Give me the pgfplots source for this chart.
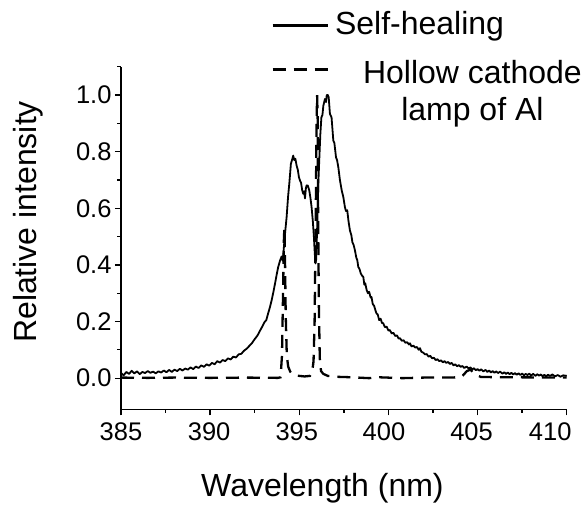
\documentclass[border=0pt]{standalone}
\usepackage{fontspec}
\setmainfont{Liberation Sans}
\usepackage{pgfplots}
\pgfplotsset{compat=1.18}
\begin{document}
\begin{tikzpicture}
\begin{axis}[
  scale only axis, width=445.7pt, height=342.6pt,
  xmin=385, xmax=410, ymin=-0.11, ymax=1.1,
  axis x line*=bottom, axis y line*=left,
  axis line style={line width=1.4pt, -},
  xtick={385,390,395,400,405,410},
  xticklabels={385,\raisebox{-5pt}{390}\hspace*{2pt},395\hspace*{5pt},400\hspace*{9pt},\raisebox{-2pt}{405}\hspace*{12pt},410\hspace*{33pt}},
  minor xtick={387.5,392.5,397.5,402.5,407.5},
  ytick={0,0.2,0.4,0.6,0.8,1},
  yticklabels={0.0,0.2,0.4,0.6,0.8,1.0},
  minor ytick={0.1,0.3,0.5,0.7,0.9,1.1},
  tick align=outside,
  major tick length=6pt, minor tick length=3.5pt,
  every tick/.style={line width=1.3pt, black},
  ticklabel style={font=\fontsize{25.5}{30}\selectfont},
  xticklabel style={yshift=-4pt},
  xlabel={Wavelength (nm)},
  ylabel={Relative intensity},
  xlabel style={font=\fontsize{32}{38}\selectfont, at={(axis description cs:0.452,0)}, anchor=base, yshift=-87.4pt},
  ylabel style={font=\fontsize{32}{38}\selectfont, at={(axis description cs:-0.1885,0.547)}, anchor=base},
  legend style={at={(axis description cs:0.3366,1.169)}, anchor=north west, draw=none, fill=none, inner sep=0pt,
    font=\fontsize{32}{37}\selectfont, row sep=18pt, column sep=4pt},
  legend cell align=left,
  legend image code/.code={\draw[#1] (0pt,0pt) -- (55pt,0pt);},
  clip=false,
]
\coordinate (SW) at (rel axis cs:0,0);
\coordinate (NE) at (rel axis cs:1,1);
\addplot[black, line width=1.8pt, line join=round, legend image post style={line width=2.8pt, yshift=-2pt}] table {
385.00 0.018
385.15 0.010
385.30 0.022
385.45 0.015
385.60 0.026
385.75 0.017
385.90 0.024
386.05 0.014
386.20 0.022
386.35 0.018
386.50 0.025
386.65 0.019
386.80 0.023
386.95 0.017
387.10 0.024
387.25 0.020
387.40 0.027
387.55 0.021
387.70 0.029
387.85 0.022
388.00 0.030
388.15 0.025
388.30 0.033
388.45 0.027
388.60 0.034
388.75 0.030
388.90 0.038
389.05 0.032
389.20 0.041
389.35 0.036
389.50 0.045
389.65 0.040
389.80 0.049
389.95 0.044
390.10 0.054
390.25 0.049
390.40 0.060
390.55 0.055
390.70 0.064
390.85 0.060
391.00 0.070
391.15 0.066
391.30 0.076
391.45 0.073
391.60 0.084
391.75 0.086
391.90 0.097
392.05 0.104
392.20 0.114
392.35 0.124
392.50 0.138
392.65 0.150
392.80 0.168
392.95 0.185
393.05 0.198
393.15 0.205
393.25 0.228
393.36 0.252
393.45 0.275
393.55 0.305
393.64 0.334
393.73 0.365
393.82 0.393
393.92 0.415
394.01 0.430
394.07 0.415
394.12 0.450
394.20 0.510
394.29 0.569
394.37 0.640
394.44 0.687
394.53 0.757
394.60 0.772
394.66 0.786
394.72 0.770
394.78 0.775
394.85 0.751
394.92 0.735
394.98 0.710
395.04 0.698
395.10 0.690
395.16 0.665
395.22 0.651
395.27 0.660
395.32 0.635
395.37 0.670
395.41 0.681
395.48 0.680
395.56 0.663
395.63 0.635
395.69 0.604
395.76 0.555
395.82 0.499
395.87 0.440
395.91 0.405
395.95 0.420
396.01 0.546
396.07 0.690
396.12 0.769
396.18 0.860
396.24 0.921
396.30 0.930
396.35 0.962
396.44 0.986
396.50 0.975
396.54 1.000
396.60 1.000
396.65 0.992
396.72 0.933
396.81 0.921
396.86 0.880
396.91 0.839
396.97 0.830
397.06 0.780
397.12 0.770
397.19 0.745
397.28 0.700
397.38 0.663
397.47 0.640
397.56 0.604
397.62 0.590
397.69 0.593
397.76 0.555
397.84 0.522
397.92 0.505
397.98 0.480
398.05 0.470
398.12 0.452
398.20 0.425
398.25 0.418
398.31 0.393
398.38 0.385
398.45 0.370
398.52 0.362
398.59 0.358
398.65 0.330
398.70 0.335
398.78 0.311
398.85 0.300
398.92 0.305
399.00 0.285
399.05 0.287
399.12 0.262
399.20 0.255
399.27 0.240
399.33 0.229
399.40 0.225
399.48 0.205
399.56 0.210
399.64 0.195
399.71 0.194
399.80 0.180
399.90 0.182
400.00 0.168
400.08 0.170
400.18 0.158
400.28 0.160
400.38 0.149
400.48 0.151
400.57 0.140
400.65 0.141
400.75 0.132
400.85 0.134
400.95 0.125
401.05 0.127
401.15 0.119
401.21 0.123
401.30 0.112
401.40 0.115
401.50 0.108
401.60 0.110
401.70 0.100
401.77 0.106
401.85 0.093
401.95 0.090
402.05 0.084
402.15 0.085
402.25 0.076
402.35 0.079
402.45 0.070
402.55 0.072
402.65 0.064
402.75 0.067
402.85 0.060
402.95 0.063
403.05 0.056
403.15 0.060
403.25 0.054
403.35 0.057
403.45 0.050
403.55 0.054
403.65 0.045
403.75 0.049
403.85 0.042
403.95 0.046
404.05 0.040
404.15 0.043
404.25 0.036
404.39 0.041
404.50 0.034
404.60 0.038
404.70 0.031
404.80 0.035
404.90 0.028
405.00 0.032
405.10 0.026
405.20 0.031
405.32 0.024
405.45 0.029
405.55 0.022
405.65 0.027
405.75 0.020
405.85 0.025
405.95 0.019
406.05 0.024
406.15 0.018
406.26 0.023
406.40 0.016
406.50 0.021
406.60 0.015
406.70 0.020
406.80 0.014
406.90 0.019
407.00 0.013
407.10 0.018
407.20 0.012
407.30 0.017
407.40 0.011
407.50 0.016
407.60 0.010
407.70 0.015
407.80 0.011
407.90 0.016
408.00 0.009
408.12 0.015
408.25 0.008
408.35 0.014
408.45 0.009
408.55 0.013
408.65 0.007
408.75 0.012
408.85 0.006
408.95 0.012
409.06 0.008
409.20 0.013
409.35 0.006
409.50 0.011
409.65 0.005
409.80 0.010
410.00 0.008
};
\addlegendentry{Self-healing}
\addplot[black, line width=2.3pt, dash pattern=on 13pt off 8pt, legend image post style={yshift=2pt}] table {
385.00 0.002
386.50 0.001
388.00 0.002
390.00 0.001
392.00 0.002
393.80 0.001
393.95 0.003
394.03 0.080
394.09 0.300
394.14 0.500
394.17 0.530
394.20 0.420
394.24 0.220
394.30 0.080
394.38 0.040
394.50 0.022
394.60 0.015
394.80 0.010
395.00 0.008
395.30 0.006
395.60 0.008
395.72 0.020
395.80 0.060
395.86 0.200
395.92 0.550
395.97 0.900
396.00 1.000
396.03 0.920
396.06 0.550
396.10 0.250
396.15 0.070
396.22 0.025
396.35 0.015
396.60 0.008
397.00 0.005
398.00 0.003
398.90 0.000
399.50 0.003
400.80 0.000
402.00 0.002
403.50 0.002
404.10 0.004
404.40 0.025
404.60 0.030
404.90 0.012
405.20 0.004
407.00 0.003
410.00 0.002
};
\addlegendentry{\hspace*{28pt}\begin{tabular}[t]{@{}c@{}}Hollow cathode\\lamp of Al\end{tabular}}
\end{axis}
\pgfresetboundingbox
\path[use as bounding box] ([shift={(-121pt,-95.7pt)}]SW) rectangle ([shift={(19.3pt,66.7pt)}]NE);
\end{tikzpicture}
\end{document}
